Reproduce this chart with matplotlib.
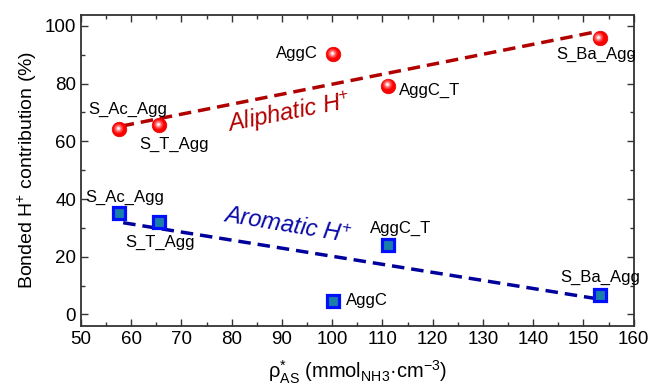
import matplotlib
matplotlib.use("Agg")
from matplotlib import pyplot as plt
from matplotlib import transforms
from matplotlib.ticker import MultipleLocator

plt.rcParams['font.family'] = ['Liberation Sans', 'DejaVu Sans']
plt.rcParams['mathtext.fontset'] = 'custom'
plt.rcParams['mathtext.rm'] = 'Liberation Sans'
plt.rcParams['mathtext.it'] = 'Liberation Sans:italic'

# 样品名与密度
samples = ["S_Ac_Agg", "S_T_Agg", "AggC", "AggC_T", "S_Ba_Agg"]
rho = [57.6, 65.5, 100.1, 111.1, 153.2]
# 两类H+贡献 (%)
aliphatic = [64.3, 65.7, 90.3, 79.3, 95.9]
aromatic = [35.0, 32.1, 4.5, 24.0, 6.7]
# 趋势线端点
ali_fit_x = [58.1, 152.6]
ali_fit_y = [65.3, 98.0]
aro_fit_x = [58.4, 153.2]
aro_fit_y = [31.8, 5.3]

# 标签位置 (x, y, 对齐)
ali_label_pos = [(59.4, 71.2, 'center'), (68.5, 59.1, 'center'), (97.2, 90.3, 'right'),
                 (113.3, 77.8, 'left'), (152.6, 90.0, 'center')]
aro_label_pos = [(58.8, 40.6, 'center'), (65.7, 24.8, 'center'), (102.8, 4.7, 'left'),
                 (113.7, 29.8, 'center'), (153.4, 13.0, 'center')]

red_line = "#b00000"
blue_line = "#00009c"

fig = plt.figure(figsize=(6.51, 3.86), dpi=100)
ax = fig.add_axes([0.1244, 0.1562, 0.849, 0.805])

# 趋势线
ax.plot(ali_fit_x, ali_fit_y, ls=(0, (3.6, 2.0)), lw=2.5, color=red_line, zorder=2)
ax.plot(aro_fit_x, aro_fit_y, ls=(0, (3.6, 2.0)), lw=2.5, color=blue_line, zorder=2)

# 红色球形点：多层同心圆模拟高光
ax.plot(rho, aliphatic, 'o', ms=10.5, mfc="#ff0000", mec="#e00000", mew=0.5, zorder=3)
hl = transforms.offset_copy(ax.transData, fig=fig, x=-1.2, y=1.2, units='dots')
for ms, c in [(7, "#ff3030"), (5, "#ff6a6a"), (3.2, "#ffb0b0"), (1.8, "#ffffff")]:
    ax.plot(rho, aliphatic, 'o', ms=ms, mfc=c, mec='none', transform=hl, zorder=4)

# 蓝色方块点
ax.plot(rho, aromatic, 's', ms=9, mfc="#1a7fa8", mec="#0010ff", mew=2.3, zorder=3)

for name, (x, y, ha) in zip(samples, ali_label_pos):
    ax.text(x, y, name, fontsize=12, ha=ha, va='center', color='black')
for name, (x, y, ha) in zip(samples, aro_label_pos):
    ax.text(x, y, name, fontsize=12, ha=ha, va='center', color='black')

ax.text(91.4, 69.8, "Aliphatic H$^{+}$", fontsize=17, color=red_line, style='italic',
        rotation=11, ha='center', va='center')
ax.text(91.0, 30.6, "Aromatic H$^{+}$", fontsize=17, color="#0a0aa8", style='italic',
        rotation=-9.5, ha='center', va='center')

ax.set_xlim(50, 160)
ax.set_ylim(-3.9, 103.8)
ax.xaxis.set_major_locator(MultipleLocator(10))
ax.xaxis.set_minor_locator(MultipleLocator(5))
ax.yaxis.set_major_locator(MultipleLocator(20))
ax.yaxis.set_minor_locator(MultipleLocator(10))
ax.tick_params(which='both', direction='in', top=True, right=True, labelsize=13.5,
               color='#333333', width=1.0)
ax.tick_params(which='major', length=5)
ax.tick_params(which='minor', length=3)
for s in ax.spines.values():
    s.set_linewidth(1.3)
    s.set_color('#333333')

ax.set_xlabel("ρ$^{*}_{\\rm AS}$ (mmol$_{\\rm NH3}$·cm$^{-3}$)", fontsize=14.5, labelpad=8)
ax.set_ylabel("Bonded H$^{+}$ contribution (%)", fontsize=14, labelpad=4)

plt.savefig("out.png", dpi=100)
